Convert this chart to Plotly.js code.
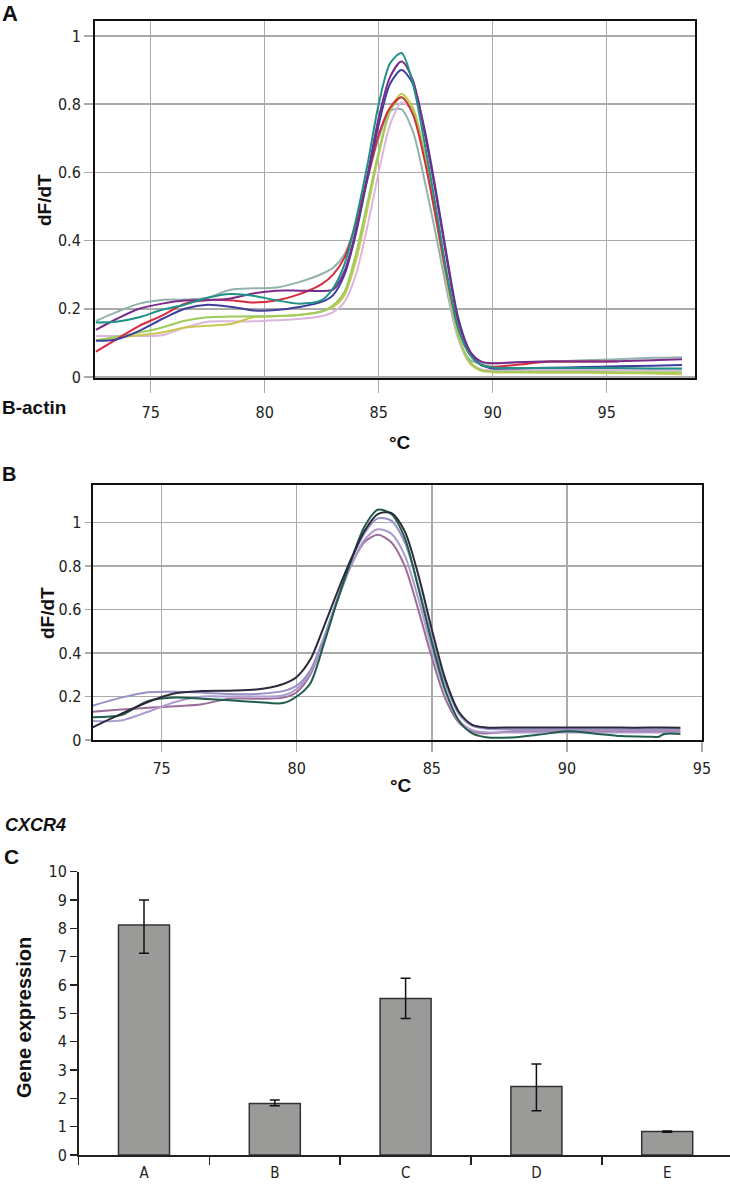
<!DOCTYPE html>
<html>
<head>
<meta charset="utf-8">
<script src="https://cdn.plot.ly/plotly-3.0.1.min.js"></script>
<style>
  body { margin: 0; background: #fff; }
  #plot { width: 730px; height: 1185px; }
</style>
</head>
<body>
<div id="plot"></div>
<script>
// panel A: B-actin melt curves
let tempA = [72.6, 73.5, 74.5, 75.5, 76.5, 77.5, 78.5, 79.5, 80.5, 81.5, 82.5, 83.0, 83.5, 84.0, 84.5, 85.0, 85.5, 86.0, 86.5, 87.0, 87.5, 88.0, 88.5, 89.0, 89.5, 90.0, 91.0, 92.5, 94.0, 95.5, 97.0, 98.3];
let grayA   = [0.164, 0.19, 0.215, 0.226, 0.227, 0.232, 0.256, 0.26, 0.262, 0.278, 0.302, 0.32, 0.36, 0.45, 0.58, 0.7, 0.78, 0.785, 0.72, 0.58, 0.42, 0.25, 0.11, 0.05, 0.04, 0.04, 0.042, 0.045, 0.049, 0.052, 0.056, 0.058];
let pinkA   = [0.12, 0.12, 0.12, 0.122, 0.145, 0.162, 0.163, 0.163, 0.166, 0.17, 0.178, 0.19, 0.22, 0.3, 0.44, 0.6, 0.74, 0.805, 0.78, 0.65, 0.47, 0.27, 0.11, 0.04, 0.022, 0.02, 0.02, 0.02, 0.02, 0.02, 0.02, 0.02];
let yellowA = [0.108, 0.115, 0.122, 0.13, 0.145, 0.15, 0.155, 0.175, 0.178, 0.182, 0.192, 0.205, 0.24, 0.34, 0.49, 0.65, 0.78, 0.83, 0.79, 0.66, 0.48, 0.28, 0.12, 0.04, 0.018, 0.014, 0.013, 0.012, 0.012, 0.011, 0.01, 0.008];
let greenA  = [0.107, 0.118, 0.13, 0.145, 0.165, 0.175, 0.177, 0.178, 0.179, 0.182, 0.192, 0.21, 0.25, 0.36, 0.51, 0.66, 0.78, 0.82, 0.78, 0.65, 0.47, 0.28, 0.12, 0.045, 0.02, 0.016, 0.015, 0.015, 0.015, 0.014, 0.014, 0.014];
let redA    = [0.074, 0.11, 0.15, 0.18, 0.215, 0.226, 0.225, 0.218, 0.224, 0.242, 0.272, 0.3, 0.35, 0.45, 0.58, 0.71, 0.79, 0.82, 0.77, 0.64, 0.47, 0.29, 0.14, 0.065, 0.035, 0.03, 0.035, 0.045, 0.045, 0.045, null, null];
let blueA   = [0.106, 0.11, 0.135, 0.17, 0.2, 0.212, 0.206, 0.195, 0.196, 0.205, 0.22, 0.24, 0.3, 0.42, 0.58, 0.74, 0.86, 0.9, 0.86, 0.73, 0.55, 0.35, 0.17, 0.075, 0.035, 0.025, 0.025, 0.027, 0.029, 0.031, 0.033, 0.035];
let purpleA = [0.138, 0.17, 0.2, 0.215, 0.224, 0.225, 0.23, 0.245, 0.253, 0.253, 0.252, 0.256, 0.31, 0.43, 0.59, 0.76, 0.88, 0.925, 0.87, 0.72, 0.54, 0.34, 0.16, 0.075, 0.045, 0.04, 0.043, 0.045, 0.045, 0.046, 0.049, 0.052];
let tealA   = [0.16, 0.162, 0.175, 0.197, 0.212, 0.232, 0.243, 0.238, 0.225, 0.215, 0.225, 0.26, 0.33, 0.46, 0.62, 0.8, 0.92, 0.95, 0.86, 0.69, 0.5, 0.3, 0.14, 0.065, 0.035, 0.028, 0.026, 0.026, 0.026, 0.026, 0.025, 0.025];

// panel B melt curves
let tempB = [72.45, 73.5, 74.5, 75.5, 76.5, 77.5, 78.5, 79.5, 80.0, 80.5, 81.0, 81.5, 82.0, 82.5, 83.0, 83.5, 84.0, 84.5, 85.0, 85.5, 86.0, 86.5, 87.0, 88.0, 89.0, 90.0, 91.0, 92.0, 93.0, 93.4, 93.6, 94.2];
let mauveB    = [0.13, 0.14, 0.148, 0.155, 0.165, 0.19, 0.19, 0.195, 0.22, 0.3, 0.46, 0.64, 0.8, 0.91, 0.945, 0.91, 0.8, 0.6, 0.38, 0.19, 0.08, 0.04, 0.03, 0.04, 0.04, 0.04, 0.04, 0.04, 0.04, 0.04, 0.04, 0.04];
let lilacB    = [0.088, 0.09, 0.13, 0.175, 0.2, 0.2, 0.2, 0.205, 0.235, 0.31, 0.46, 0.64, 0.8, 0.92, 0.97, 0.95, 0.85, 0.65, 0.42, 0.22, 0.09, 0.045, 0.036, 0.035, 0.035, 0.035, 0.035, 0.035, 0.035, 0.035, 0.035, 0.035];
let lavenderB = [0.158, 0.195, 0.22, 0.222, 0.218, 0.212, 0.212, 0.225, 0.25, 0.32, 0.47, 0.65, 0.82, 0.95, 1.02, 1.01, 0.91, 0.71, 0.47, 0.26, 0.12, 0.065, 0.052, 0.05, 0.05, 0.05, 0.05, 0.05, 0.05, 0.05, 0.05, 0.05];
let greenB    = [0.105, 0.115, 0.18, 0.196, 0.19, 0.183, 0.175, 0.17, 0.2, 0.26, 0.44, 0.64, 0.82, 0.98, 1.06, 1.04, 0.93, 0.7, 0.45, 0.23, 0.09, 0.03, 0.013, 0.012, 0.025, 0.04, 0.03, 0.018, 0.015, 0.015, 0.028, 0.028];
let blackB    = [0.058, 0.12, 0.175, 0.215, 0.225, 0.227, 0.232, 0.258, 0.29, 0.37, 0.52, 0.68, 0.83, 0.96, 1.04, 1.045, 0.96, 0.76, 0.51, 0.28, 0.13, 0.07, 0.058, 0.058, 0.058, 0.058, 0.058, 0.057, 0.057, 0.057, 0.057, 0.056];

// panel C: CXCR4 expression
let groups = ['A', 'B', 'C', 'D', 'E'];
let expression = [8.12, 1.82, 5.52, 2.42, 0.83];
let errUp = [0.88, 0.12, 0.72, 0.79, 0.02];
let errDown = [1.0, 0.08, 0.7, 0.86, 0.03];

let narrow = 'Liberation Sans Narrow, DejaVu Sans Condensed, Arial Narrow, sans-serif';
let bold = 'Liberation Sans, Arial, sans-serif';

function meltLine(x, y, color, xa, ya) {
    return {
        x: x, y: y, xaxis: xa, yaxis: ya,
        type: 'scatter', mode: 'lines',
        line: { color: color, width: 2, shape: 'spline', smoothing: 0.8 },
        connectgaps: false, hoverinfo: 'skip'
    };
}

var data = [
    meltLine(tempA, grayA, '#93b1ae', 'x', 'y'),
    meltLine(tempA, pinkA, '#dcb6dc', 'x', 'y'),
    meltLine(tempA, yellowA, '#c9c84e', 'x', 'y'),
    meltLine(tempA, greenA, '#9dcb5e', 'x', 'y'),
    meltLine(tempA, redA, '#d62b3c', 'x', 'y'),
    meltLine(tempA, blueA, '#3e3f9c', 'x', 'y'),
    meltLine(tempA, purpleA, '#7b2c8b', 'x', 'y'),
    meltLine(tempA, tealA, '#1f9186', 'x', 'y'),
    meltLine(tempB, mauveB, '#9c6c99', 'x2', 'y2'),
    meltLine(tempB, lilacB, '#ad9ccf', 'x2', 'y2'),
    meltLine(tempB, lavenderB, '#9790c9', 'x2', 'y2'),
    meltLine(tempB, greenB, '#1f5e4c', 'x2', 'y2'),
    meltLine(tempB, blackB, '#2b2a3b', 'x2', 'y2'),
    {
        x: groups, y: expression, xaxis: 'x3', yaxis: 'y3', type: 'bar',
        marker: { color: '#9a9a99', line: { color: '#333', width: 1.5 } },
        error_y: { type: 'data', symmetric: false, array: errUp, arrayminus: errDown,
                   color: '#111', thickness: 1.5, width: 5 },
        hoverinfo: 'skip'
    }
];

function meltX(domain, range, ticklen, anchor) {
    return {
        domain: domain, range: range, tick0: 75, dtick: 5, anchor: anchor,
        showgrid: true, gridcolor: '#aaa', gridwidth: 1.5,
        ticks: 'outside', ticklen: ticklen, tickcolor: '#aaa', tickwidth: 1.5,
        ticklabelstandoff: 3,
        showline: true, linecolor: '#111', linewidth: 2, mirror: true,
        zeroline: false, fixedrange: true,
        tickfont: { family: narrow, size: 16, color: '#222' }
    };
}

function meltY(domain, range, ticklen, anchor) {
    return {
        domain: domain, range: range, dtick: 0.2, anchor: anchor,
        showgrid: true, gridcolor: '#aaa', gridwidth: 1.5,
        ticks: 'outside', ticklen: ticklen, tickcolor: '#aaa', tickwidth: 1.5,
        showline: true, linecolor: '#111', linewidth: 2, mirror: true,
        zeroline: false, fixedrange: true,
        tickfont: { family: narrow, size: 16, color: '#222' }
    };
}

function label(text, x, y, size, angle, anchor) {
    return {
        text: text, xref: 'paper', yref: 'paper',
        x: x / 730, y: 1 - y / 1185,
        xanchor: anchor || 'center', yanchor: 'middle',
        textangle: angle || 0, showarrow: false,
        font: { family: bold, size: size, color: '#111' }
    };
}

var xA = meltX([95 / 730, 695 / 730], [72.56, 98.87], 13, 'y');
xA.ticklabelstandoff = 5;
var xB = meltX([92.7 / 730, 702 / 730], [72.45, 95], 10, 'y2');

var layout = {
    width: 730, height: 1185,
    margin: { l: 0, r: 0, t: 0, b: 0 },
    paper_bgcolor: '#fff', plot_bgcolor: '#fff',
    showlegend: false,
    xaxis: xA,
    yaxis: meltY([1 - 378.3 / 1185, 1 - 21 / 1185], [-0.004, 1.044], 9, 'x'),
    xaxis2: xB,
    yaxis2: meltY([1 - 740 / 1185, 1 - 484.7 / 1185], [0, 1.175], 6, 'x2'),
    xaxis3: {
        domain: [78.6 / 730, 1], range: [-0.5, 4.48], anchor: 'y3',
        showline: true, linecolor: '#222', linewidth: 1.5,
        ticks: 'outside', tickson: 'boundaries', ticklen: 8, tickcolor: '#222', tickwidth: 1.5,
        ticklabelstandoff: 3,
        showgrid: false, zeroline: false, fixedrange: true,
        tickfont: { family: narrow, size: 15, color: '#222' }
    },
    yaxis3: {
        domain: [1 - 1155 / 1185, 1 - 871.7 / 1185], range: [0, 10], dtick: 1, anchor: 'x3',
        showline: true, linecolor: '#222', linewidth: 1.5,
        ticks: 'outside', ticklen: 7, tickcolor: '#222', tickwidth: 1.5,
        showgrid: false, zeroline: false, fixedrange: true,
        tickfont: { family: narrow, size: 16, color: '#222' }
    },
    bargap: 0.61,
    annotations: [
        label('<b>A</b>', 0, 13, 22, 0, 'left'),
        label('<b>dF/dT</b>', 45, 200, 19, -90),
        label('<b>B-actin</b>', 0, 407, 19, 0, 'left'),
        label('<b>°C</b>', 400, 443, 19),
        label('<b>B</b>', 0, 474, 20, 0, 'left'),
        label('<b>dF/dT</b>', 47, 613, 19, -90),
        label('<b>°C</b>', 401, 785, 19),
        label('<b><i>CXCR4</i></b>', 3, 825, 18, 0, 'left'),
        label('<b>C</b>', 2, 856, 21, 0, 'left'),
        label('<b>Gene expression</b>', 24, 1018, 20, -90)
    ]
};

Plotly.newPlot('plot', data, layout, { displayModeBar: false, staticPlot: true });
</script>
</body>
</html>
